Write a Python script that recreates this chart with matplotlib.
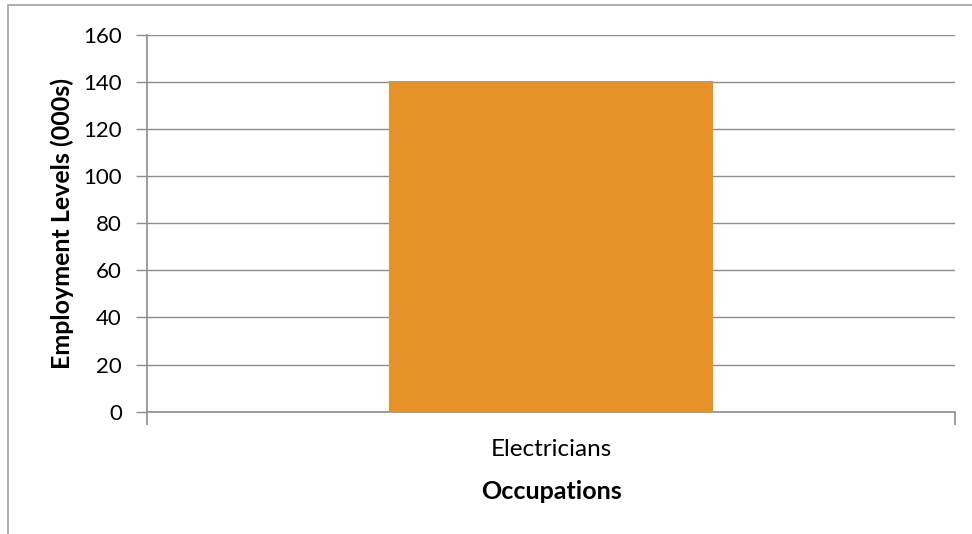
import matplotlib
matplotlib.use("Agg")
import matplotlib.pyplot as plt
from matplotlib.patches import Rectangle

categories = ["Electricians"]
values = [140.4]
y_ticks = [0, 20, 40, 60, 80, 100, 120, 140, 160]
x_label = "Occupations"
y_label = "Employment Levels (000s)"

plt.rcParams['font.family'] = ['Lato', 'DejaVu Sans']

W, H = 972, 534
fig = plt.figure(figsize=(W / 100, H / 100), dpi=100)
ax = fig.add_axes([147 / W, 1 - 411.7 / H, (955 - 147) / W, (411.7 - 34.7) / H])

grid_c = "#8c8c8c"
ax.set_ylim(0, 160)
ax.set_xlim(-0.5, len(categories) - 0.5)
ax.set_yticks(y_ticks)
ax.set_yticklabels([str(v) for v in y_ticks], fontsize=16, color="#000000")
ax.yaxis.grid(True, color=grid_c, linewidth=1.0)
ax.set_axisbelow(True)

ax.bar(range(len(categories)), values, width=0.4, color="#E79229", zorder=3)

for s in ["top", "right"]:
    ax.spines[s].set_visible(False)
for s in ["left", "bottom"]:
    ax.spines[s].set_color(grid_c)
    ax.spines[s].set_linewidth(1.2)

ax.tick_params(axis="y", length=8, color=grid_c, width=1.0, pad=10)
# category boundary ticks
ax.set_xticks([i - 0.5 for i in range(len(categories) + 1)])
ax.set_xticklabels([""] * (len(categories) + 1))
ax.tick_params(axis="x", which="major", length=9, color=grid_c, width=1.2)
ax.set_xticks(range(len(categories)), minor=True)
ax.set_xticklabels(categories, minor=True, fontsize=17.5)
ax.tick_params(axis="x", which="minor", length=0, pad=20)

ax.set_xlabel(x_label, fontsize=18, fontweight="bold", labelpad=14)
ax.set_ylabel(y_label, fontsize=18, fontweight="bold", labelpad=7)

# chart frame (partially visible)
fig.patches.append(Rectangle((8 / W, -0.1), 1.2, 1 - 5 / H + 0.1, transform=fig.transFigure,
                             fill=False, edgecolor="#a0a0a0", linewidth=1.2))

fig.savefig("out.png", dpi=100)
